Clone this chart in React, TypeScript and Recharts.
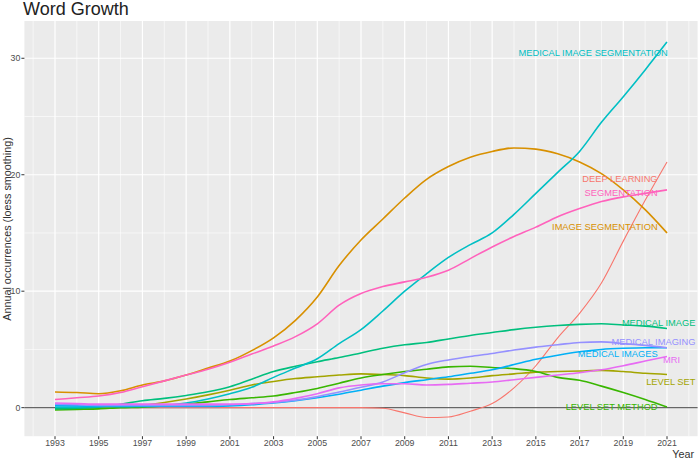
import React from 'react';
import { LineChart, Line, XAxis, YAxis, CartesianGrid, ReferenceLine, ReferenceDot } from 'recharts';

const years = [1993, 1994, 1995, 1996, 1997, 1998, 1999, 2000, 2001, 2002, 2003, 2004, 2005, 2006, 2007, 2008, 2009, 2010, 2011, 2012, 2013, 2014, 2015, 2016, 2017, 2018, 2019, 2020, 2021];

const deepLearning = [0, 0, 0, 0, 0, 0, 0, 0, 0, 0, 0, 0, 0, 0, 0, -0.05, -0.45, -0.85, -0.8, -0.3, 0.35, 1.7, 3.6, 6.0, 8.1, 10.7, 14.3, 17.8, 21.1];
const imageSegmentation = [1.35, 1.3, 1.2, 1.45, 1.95, 2.3, 2.8, 3.4, 4.0, 4.9, 6.0, 7.5, 9.5, 12.2, 14.4, 16.2, 18.0, 19.6, 20.7, 21.5, 22.0, 22.3, 22.2, 21.8, 21.1, 20.1, 18.7, 17.0, 15.0];
const levelSet = [-0.1, -0.05, 0.0, 0.05, 0.2, 0.45, 0.75, 1.1, 1.5, 1.95, 2.25, 2.5, 2.65, 2.8, 2.9, 2.85, 2.75, 2.55, 2.45, 2.55, 2.75, 2.9, 3.05, 3.1, 3.15, 3.2, 3.1, 2.95, 2.85];
const levelSetMethod = [-0.2, -0.15, -0.1, 0.0, 0.05, 0.15, 0.3, 0.5, 0.7, 0.85, 1.0, 1.3, 1.65, 2.1, 2.55, 2.85, 3.1, 3.3, 3.5, 3.55, 3.45, 3.35, 3.1, 2.6, 2.35, 1.85, 1.3, 0.7, 0.05];
const medicalImage = [-0.1, -0.05, 0.05, 0.3, 0.6, 0.8, 1.05, 1.36, 1.8, 2.45, 3.1, 3.55, 3.95, 4.3, 4.7, 5.1, 5.4, 5.6, 5.9, 6.2, 6.45, 6.7, 6.9, 7.05, 7.15, 7.2, 7.1, 7.0, 6.8];
const medicalImageSegmentation = [0.05, 0.05, 0.1, 0.1, 0.15, 0.2, 0.4, 0.75, 1.2, 1.75, 2.6, 3.4, 4.2, 5.5, 6.7, 8.3, 10.0, 11.5, 12.9, 14.0, 15.0, 16.6, 18.4, 20.2, 22.0, 24.5, 26.7, 29.0, 31.4];
const medicalImages = [0.2, 0.15, 0.1, 0.1, 0.1, 0.1, 0.1, 0.1, 0.15, 0.25, 0.4, 0.6, 0.85, 1.15, 1.5, 1.85, 2.15, 2.4, 2.65, 2.95, 3.25, 3.7, 4.15, 4.5, 4.8, 5.0, 5.1, 5.15, 5.15];
const medicalImaging = [0.3, 0.25, 0.2, 0.2, 0.2, 0.2, 0.2, 0.2, 0.25, 0.35, 0.45, 0.65, 0.95, 1.35, 1.75, 2.2, 3.0, 3.7, 4.1, 4.4, 4.65, 4.95, 5.2, 5.4, 5.6, 5.65, 5.5, 5.35, 5.15];
const mri = [0.4, 0.35, 0.3, 0.3, 0.3, 0.3, 0.3, 0.3, 0.3, 0.35, 0.5, 0.8, 1.2, 1.7, 1.95, 2.05, 2.05, 1.95, 2.0, 2.1, 2.2, 2.4, 2.6, 2.8, 3.0, 3.25, 3.6, 4.0, 4.4];
const segmentation = [0.7, 0.85, 1.0, 1.3, 1.8, 2.3, 2.8, 3.3, 3.9, 4.6, 5.3, 6.1, 7.2, 8.8, 9.8, 10.4, 10.8, 11.2, 11.8, 12.8, 13.8, 14.7, 15.5, 16.4, 17.1, 17.7, 18.1, 18.4, 18.7];

const seriesNames = ['DEEP LEARNING', 'IMAGE SEGMENTATION', 'LEVEL SET', 'LEVEL SET METHOD', 'MEDICAL IMAGE', 'MEDICAL IMAGE SEGMENTATION', 'MEDICAL IMAGES', 'MEDICAL IMAGING', 'MRI', 'SEGMENTATION'];
const seriesValues = [deepLearning, imageSegmentation, levelSet, levelSetMethod, medicalImage, medicalImageSegmentation, medicalImages, medicalImaging, mri, segmentation];
const seriesColors = ['#F8766D', '#D89000', '#A3A500', '#39B600', '#00BF7D', '#00BFC4', '#00B0F6', '#9590FF', '#E76BF3', '#FF62BC'];

// label anchors (right end of text) in data coordinates: [year, value]
const labelYears = [2020.57, 2020.57, 2022.3, 2020.57, 2022.3, 2021.03, 2020.57, 2022.3, 2021.6, 2020.57];
const labelValues = [19.7, 15.5, 2.2, 0.07, 7.3, 30.5, 4.6, 5.7, 4.15, 18.5];

const xTicks = [1993, 1995, 1997, 1999, 2001, 2003, 2005, 2007, 2009, 2011, 2013, 2015, 2017, 2019, 2021];
const xMinor = [1992, 1994, 1996, 1998, 2000, 2002, 2004, 2006, 2008, 2010, 2012, 2014, 2016, 2018, 2020, 2022];
const yTicks = [0, 10, 20, 30];
const yMinor = [5, 15, 25];

const data = years.map((year, i) => {
  const row: Record<string, number> = { year };
  seriesNames.forEach((name, k) => {
    row[name] = seriesValues[k][i];
  });
  return row;
});

const W = 700;
const H = 463;
const FONT = '"Liberation Sans", Arial, sans-serif';

export default function App() {
  return (
    <div style={{ position: 'absolute', left: 0, top: 0, width: W, height: H, background: '#ffffff' }}>
      <LineChart width={W} height={H} data={data} margin={{ top: 21, right: 2.4, bottom: 6.8, left: 4.4 }}>
        <CartesianGrid fill="#EBEBEB" stroke="none" horizontal={false} vertical={false} />
        {xMinor.map((x) => (
          <ReferenceLine key={'xm' + x} x={x} stroke="#ffffff" strokeWidth={0.6} />
        ))}
        {yMinor.map((y) => (
          <ReferenceLine key={'ym' + y} y={y} stroke="#ffffff" strokeWidth={0.6} />
        ))}
        {xTicks.map((x) => (
          <ReferenceLine key={'xM' + x} x={x} stroke="#ffffff" strokeWidth={1.2} />
        ))}
        {yTicks.map((y) => (
          <ReferenceLine key={'yM' + y} y={y} stroke="#ffffff" strokeWidth={1.2} />
        ))}
        <XAxis
          type="number"
          dataKey="year"
          domain={[1991.6, 2022.4]}
          ticks={xTicks}
          interval={0}
          allowDataOverflow
          axisLine={false}
          tickLine={{ stroke: '#333333' }}
          tickSize={3}
          tickMargin={1}
          height={20}
          tick={{ fontSize: 8.8, fill: '#4D4D4D', fontFamily: FONT }}
        />
        <YAxis
          type="number"
          domain={[-2.45, 33.2]}
          ticks={yTicks}
          interval={0}
          allowDataOverflow
          axisLine={false}
          tickLine={{ stroke: '#333333' }}
          tickSize={3}
          tickMargin={1}
          width={20}
          tick={{ fontSize: 8.8, fill: '#4D4D4D', fontFamily: FONT }}
        />
        <ReferenceLine y={0} stroke="#666666" strokeWidth={1.1} />
        {seriesNames.map((name, k) => (
          <Line
            key={name}
            dataKey={name}
            type="monotone"
            stroke={seriesColors[k]}
            strokeWidth={k === 0 ? 1.1 : 1.6}
            dot={false}
            activeDot={false}
            isAnimationActive={false}
          />
        ))}
        {seriesNames.map((name, k) => (
          <ReferenceDot
            key={'lab' + name}
            x={labelYears[k]}
            y={labelValues[k]}
            r={0}
            fill="none"
            stroke="none"
            ifOverflow="visible"
            label={{ value: name, position: 'left', offset: 0, fill: seriesColors[k], fontSize: 9.3, fontFamily: FONT }}
          />
        ))}
      </LineChart>
      <svg width={W} height={H} style={{ position: 'absolute', left: 0, top: 0, pointerEvents: 'none' }}>
        <text x={23} y={14.5} fontSize={18} fill="#222222" fontFamily={FONT}>Word Growth</text>
        <text
          x={0}
          y={0}
          transform="translate(11,229) rotate(-90)"
          textAnchor="middle"
          fontSize={10.8}
          fill="#333333"
          fontFamily={FONT}
        >
          Annual occurrences (loess smoothing)
        </text>
        <text x={694} y={458} textAnchor="end" fontSize={10.8} fill="#333333" fontFamily={FONT}>Year</text>
      </svg>
    </div>
  );
}
